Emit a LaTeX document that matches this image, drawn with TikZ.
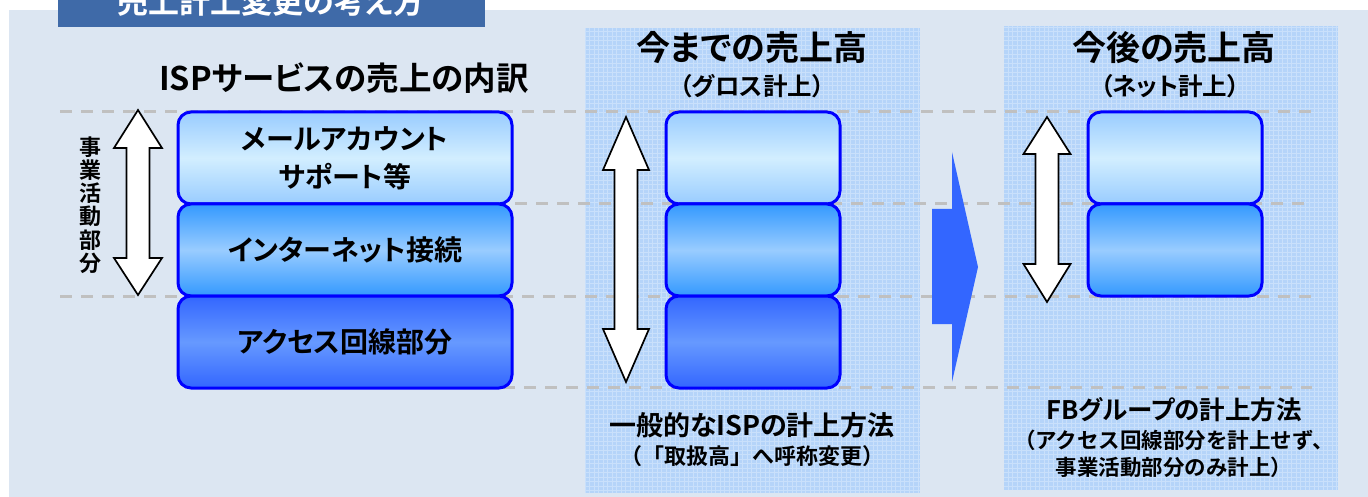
\documentclass[tikz,border=0pt]{standalone}
\usepackage{fontspec}
\setmainfont{Noto Sans CJK JP}[RawFeature=+palt,BoldFont={* Bold}]
\newfontfamily\nopalt{Noto Sans CJK JP}[BoldFont={* Bold}]
\newcommand\fsz[2]{\fontsize{#1}{#2}\selectfont}
\definecolor{bgc}{HTML}{DCE6F2}
\definecolor{titlec}{HTML}{3F6AA8}
\definecolor{panelc}{HTML}{B5D4F9}
\definecolor{gridc}{HTML}{C9E0FB}
\definecolor{dashc}{HTML}{C0C0C0}
\definecolor{boxline}{HTML}{0000FF}
\definecolor{bigarrowc}{HTML}{3366FF}
\definecolor{ltA}{HTML}{99CCFF}
\definecolor{ltB}{HTML}{D2EEFF}
\definecolor{mdA}{HTML}{3399FF}
\definecolor{mdB}{HTML}{99CCFF}
\definecolor{dkA}{HTML}{3366FF}
\definecolor{dkB}{HTML}{6699FF}
\newcommand\dblarrow[7]{%
  \draw[dblarrowstyle] (#1,#2) -- (#1+#6,#3) -- (#1+#7,#3) -- (#1+#7,#4) -- (#1+#6,#4) -- (#1,#5)
    -- (#1-#6,#4) -- (#1-#7,#4) -- (#1-#7,#3) -- (#1-#6,#3) -- cycle;}
\begin{document}
\begin{tikzpicture}[x=1pt,y=-1pt,
  seg/.style={draw=boxline,line width=3pt,rounded corners=13pt,minimum height=92pt,
    inner sep=0pt,font=\bfseries\fsz{28}{38},align=center},
  segL/.style={seg,minimum width=334pt},
  segM/.style={seg,minimum width=174pt},
  lightfill/.style={top color=ltA,bottom color=ltA,middle color=ltB},
  midfill/.style={top color=mdA,bottom color=mdA,middle color=mdB},
  darkfill/.style={top color=dkA,bottom color=dkA,middle color=dkB},
  dashline/.style={draw=dashc,line width=3pt,dash pattern=on 12pt off 9pt},
  dblarrowstyle/.style={fill=white,draw=black,line width=1.7pt,line join=miter},
  panelgrid/.style={draw=gridc,line width=0.8pt},
  head/.style={font=\bfseries\fsz{34}{40}},
  subhead/.style={font=\bfseries\fsz{24.5}{28}},
  subnote/.style={font=\nopalt\bfseries\fsz{21.5}{27.5},align=center}
]
\useasboundingbox (0,0) rectangle (1368,497);
\fill[white] (0,0) rectangle (1368,497);
\fill[bgc] (9,10) rectangle (1368,497);
% title
\fill[titlec] (58,-5) rectangle (485,27);
\node[text=white,font=\bfseries\fsz{31}{34}] (title) at (271,2) {売上計上変更の考え方};
% panels
\fill[panelc] (585,28) rectangle (920,493);
\begin{scope}
  \clip (585,28) rectangle (920,493);
  \draw[panelgrid,step=4.5pt] (585,28) grid (920,493);
\end{scope}
\fill[panelc] (1004,26) rectangle (1338,490);
\begin{scope}
  \clip (1004,26) rectangle (1338,490);
  \draw[panelgrid,step=4.5pt] (1004,26) grid (1338,490);
\end{scope}
% dashed guide lines
\draw[dashline] (60,112) -- (1312,112);
\draw[dashline] (515,204) -- (1312,204);
\draw[dashline] (60,296) -- (1312,296);
\draw[dashline] (503,387) -- (1312,387);
% headings
\node[font=\bfseries\fsz{32.5}{38}] (h0) at (344,78) {ISPサービスの売上の内訳};
\node[head] (h1) at (752,48) {今までの売上高};
\node[subhead] (h1s) at (752,86) {（グロス計上）};
\node[head] (h2) at (1174,48) {今後の売上高};
\node[subhead] (h2s) at (1170,86) {（ネット計上）};
% left stack
\node[segL,lightfill] (a1) at (345,158) {メールアカウント\\サポート等};
\node[segL,midfill] (a2) at (345,250) {インターネット接続};
\node[segL,darkfill] (a3) at (345,342) {アクセス回線部分};
% middle stack
\node[segM,lightfill] (b1) at (753,158) {};
\node[segM,midfill] (b2) at (753,250) {};
\node[segM,darkfill] (b3) at (753,342) {};
% right stack
\node[segM,lightfill] (c1) at (1175,158) {};
\node[segM,midfill] (c2) at (1175,250) {};
% double arrows
\dblarrow{138}{110}{148}{258}{295}{24}{11.5}
\dblarrow{626}{117}{170}{329}{382}{23}{11.5}
\dblarrow{1047}{117}{154}{264}{302}{23.5}{11.5}
% vertical label
\node[font=\bfseries\fsz{22}{23.3},align=center] (vlab) at (90,205) {事\\業\\活\\動\\部\\分};
% big arrow
\fill[bigarrowc] (932,209) -- (952,209) -- (952,152) -- (978,267) -- (952,382) -- (952,324) -- (932,324) -- cycle;
% bottom notes
\node[font=\bfseries\fsz{27}{30}] (n1) at (752,425) {一般的なISPの計上方法};
\node[subnote,font=\nopalt\bfseries\fsz{22}{27}] (n1s) at (752,456) {（「取扱高」へ呼称変更）};
\node[font=\bfseries\fsz{25.5}{30}] (n2) at (1174,410) {FBグループの計上方法};
\node[subnote] (n2s) at (1174,454) {（アクセス回線部分を計上せず、\\事業活動部分のみ計上）};
\end{tikzpicture}
\end{document}
